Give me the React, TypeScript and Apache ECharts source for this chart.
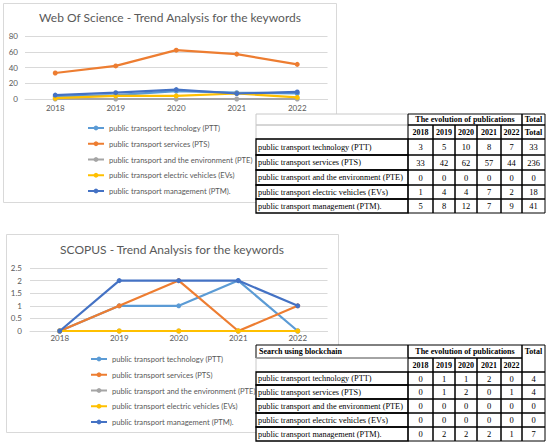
import React, { useEffect, useRef } from "react";
import * as echarts from "echarts";

const years = ["2018", "2019", "2020", "2021", "2022"];
const seriesNames = [
  "public transport technology (PTT)",
  "public transport services (PTS)",
  "public transport and the environment (PTE)",
  "public transport electric vehicles (EVs)",
  "public transport management (PTM).",
];
const seriesColors = ["#5B9BD5", "#ED7D31", "#A5A5A5", "#FFC000", "#4472C4"];

// Web Of Science
const wosPTT = [3, 5, 10, 8, 7];
const wosPTS = [33, 42, 62, 57, 44];
const wosPTE = [0, 0, 0, 0, 0];
const wosEVs = [1, 4, 4, 7, 2];
const wosPTM = [5, 8, 12, 7, 9];
const wosTotals = [33, 236, 0, 18, 41];
const wosYMax = 80;
const wosYInterval = 20;

// SCOPUS
const scoPTT = [0, 1, 1, 2, 0];
const scoPTS = [0, 1, 2, 0, 1];
const scoPTE = [0, 0, 0, 0, 0];
const scoEVs = [0, 0, 0, 0, 0];
const scoPTM = [0, 2, 2, 2, 1];
const scoTotals = [4, 4, 0, 0, 7];
const scoYMax = 2.5;
const scoYInterval = 0.5;

const wosTitle = "Web Of Science - Trend Analysis for the keywords";
const scoTitle = "SCOPUS - Trend Analysis for the keywords";
const tableHeader = "The evolution of publications";
const totalLabel = "Total";
const table2Label = "Search using blockchain";

const wosData = [wosPTT, wosPTS, wosPTE, wosEVs, wosPTM];
const scoData = [scoPTT, scoPTS, scoPTE, scoEVs, scoPTM];

const SANS = "Lato";
const SERIF = "Liberation Serif";
const GREY = "#595959";

function buildTable(
  colEdges: number[],
  rowEdges: number[],
  data: number[][],
  totals: number[],
  variant: 1 | 2
) {
  const els: any[] = [];
  const Z = 100;
  const x0 = colEdges[0];
  const x1 = colEdges[colEdges.length - 1];
  const y0 = rowEdges[0];
  const y1 = rowEdges[rowEdges.length - 1];
  els.push({
    type: "rect",
    z: Z,
    shape: { x: x0, y: y0, width: x1 - x0, height: y1 - y0 },
    style: { fill: "#ffffff", stroke: "none" },
  });
  const cell = (cx0: number, cx1: number, ry0: number, ry1: number, stroke: string, lw = 1) => {
    els.push({
      type: "rect",
      z: Z + 1,
      shape: { x: cx0, y: ry0, width: cx1 - cx0, height: ry1 - ry0 },
      style: { fill: "none", stroke, lineWidth: lw },
    });
  };
  const txt = (t: string, x: number, y: number, align: string, bold = false, size = 8) => {
    els.push({
      type: "text",
      z: Z + 2,
      x,
      y,
      style: {
        text: t,
        fill: "#000000",
        font: `${bold ? "bold " : ""}${size}px "${SERIF}"`,
        align,
        verticalAlign: "middle",
      },
    });
  };
  const nCols = colEdges.length;
  const totalCol0 = colEdges[nCols - 2];
  const yearStart = colEdges[1];
  const hStroke = variant === 1 ? "#c8c8c8" : "#000000";
  cell(x0, yearStart, rowEdges[0], rowEdges[1], hStroke);
  cell(x0, yearStart, rowEdges[1], rowEdges[2], "#c8c8c8");
  cell(yearStart, totalCol0, rowEdges[0], rowEdges[1], "#000000");
  txt(tableHeader, (yearStart + totalCol0) / 2, (rowEdges[0] + rowEdges[1]) / 2, "center", true);
  if (variant === 1) {
    cell(totalCol0, x1, rowEdges[0], rowEdges[1], "#000000");
    cell(totalCol0, x1, rowEdges[1], rowEdges[2], "#000000");
    txt(totalLabel, (totalCol0 + x1) / 2, (rowEdges[0] + rowEdges[1]) / 2, "center", true);
    txt(totalLabel, (totalCol0 + x1) / 2, (rowEdges[1] + rowEdges[2]) / 2, "center", true);
  } else {
    cell(totalCol0, x1, rowEdges[0], rowEdges[2], "#000000");
    txt(totalLabel, (totalCol0 + x1) / 2, (rowEdges[0] + rowEdges[1]) / 2, "center", true);
    txt(table2Label, x0 + 3, (rowEdges[0] + rowEdges[1]) / 2, "left", true);
  }
  years.forEach((yr, i) => {
    cell(colEdges[1 + i], colEdges[2 + i], rowEdges[1], rowEdges[2], "#000000");
    txt(yr, (colEdges[1 + i] + colEdges[2 + i]) / 2, (rowEdges[1] + rowEdges[2]) / 2, "center", true);
  });
  seriesNames.forEach((name, r) => {
    const ry0 = rowEdges[2 + r];
    const ry1 = rowEdges[3 + r];
    const cy = (ry0 + ry1) / 2;
    cell(x0, colEdges[1], ry0, ry1, "#000000", 1.3);
    txt(name, x0 + 2, cy, "left", false, 8.3);
    data[r].forEach((v, c) => {
      cell(colEdges[1 + c], colEdges[2 + c], ry0, ry1, "#000000");
      txt(String(v), (colEdges[1 + c] + colEdges[2 + c]) / 2, cy, "center", false, 8.5);
    });
    cell(totalCol0, x1, ry0, ry1, "#000000");
    txt(String(totals[r]), (totalCol0 + x1) / 2, cy, "center", false, 8.5);
  });
  return els;
}

export default function App() {
  const ref = useRef<HTMLDivElement>(null);
  useEffect(() => {
    if (!ref.current) return;
    const chart = echarts.init(ref.current, null, { renderer: "svg" });
    const colEdges = [256, 408, 433, 455, 477, 501, 522, 545];
    const rows1 = [114, 125, 139, 155, 170, 185, 199, 213];
    const rows2 = [345, 358, 372, 385, 399, 413, 427, 441];

    const mkSeries = (data: number[][], idx: number) =>
      data.map((d, i) => ({
        name: seriesNames[i],
        type: "line",
        xAxisIndex: idx,
        yAxisIndex: idx,
        data: d,
        symbol: "circle",
        symbolSize: 5,
        color: seriesColors[i],
        lineStyle: { width: 2.2, color: seriesColors[i] },
        itemStyle: { color: seriesColors[i] },
        z: 2 + i * 0.1,
      }));

    const xAxisBase = {
      type: "category",
      data: years,
      boundaryGap: true,
      axisTick: { show: false },
      axisLine: { show: true, lineStyle: { color: "#d9d9d9", width: 1 } },
      axisLabel: { color: GREY, fontSize: 8, fontFamily: SANS, margin: 5 },
    };
    const yAxisBase = {
      type: "value",
      min: 0,
      axisLine: { show: false },
      axisTick: { show: false },
      splitLine: { show: true, lineStyle: { color: "#d9d9d9", width: 1 } },
    };
    const legendBase = {
      orient: "vertical",
      itemWidth: 16,
      itemHeight: 6,
      itemGap: 3.75,
      padding: 0,
      selectedMode: false,
      textStyle: { color: GREY, fontSize: 7.6, fontFamily: SANS, lineHeight: 12 },
      data: seriesNames,
    };

    chart.setOption({
      animation: false,
      backgroundColor: "#ffffff",
      title: [
        {
          text: wosTitle,
          left: 170,
          top: 11,
          textAlign: "center",
          padding: 0,
          textStyle: { color: GREY, fontSize: 12, fontWeight: "normal", fontFamily: SANS },
        },
        {
          text: scoTitle,
          left: 172,
          top: 243,
          textAlign: "center",
          padding: 0,
          textStyle: { color: GREY, fontSize: 12, fontWeight: "normal", fontFamily: SANS },
        },
      ],
      grid: [
        { left: 25, right: 222.5, top: 36, height: 63, containLabel: false },
        { left: 30, right: 222.5, top: 268, height: 63, containLabel: false },
      ],
      xAxis: [
        { ...xAxisBase, gridIndex: 0 },
        {
          ...xAxisBase,
          gridIndex: 1,
          axisLabel: { color: GREY, fontSize: 8, fontFamily: SANS, margin: 3 },
        },
      ],
      yAxis: [
        {
          ...yAxisBase,
          gridIndex: 0,
          max: wosYMax,
          interval: wosYInterval,
          axisLabel: { color: GREY, fontSize: 8, fontFamily: SANS, margin: 7 },
        },
        {
          ...yAxisBase,
          gridIndex: 1,
          max: scoYMax,
          interval: scoYInterval,
          axisLabel: { color: GREY, fontSize: 8, fontFamily: SANS, margin: 8 },
        },
      ],
      legend: [
        { ...legendBase, left: 87, top: 122 },
        { ...legendBase, left: 90, top: 353 },
      ],
      series: [...mkSeries(wosData, 0), ...mkSeries(scoData, 1)],
      graphic: [
        {
          type: "rect",
          z: -10,
          shape: { x: 3.5, y: 3.5, width: 333, height: 199 },
          style: { fill: "#ffffff", stroke: "#d9d9d9", lineWidth: 1 },
        },
        {
          type: "rect",
          z: -10,
          shape: { x: 6.5, y: 234.5, width: 332, height: 198 },
          style: { fill: "#ffffff", stroke: "#d9d9d9", lineWidth: 1 },
        },
        ...buildTable(colEdges, rows1, wosData, wosTotals, 1),
        ...buildTable(colEdges, rows2, scoData, scoTotals, 2),
      ],
    });
    return () => chart.dispose();
  }, []);
  return (
    <div
      ref={ref}
      style={{ position: "fixed", left: 0, top: 0, width: 550, height: 448 }}
    />
  );
}
